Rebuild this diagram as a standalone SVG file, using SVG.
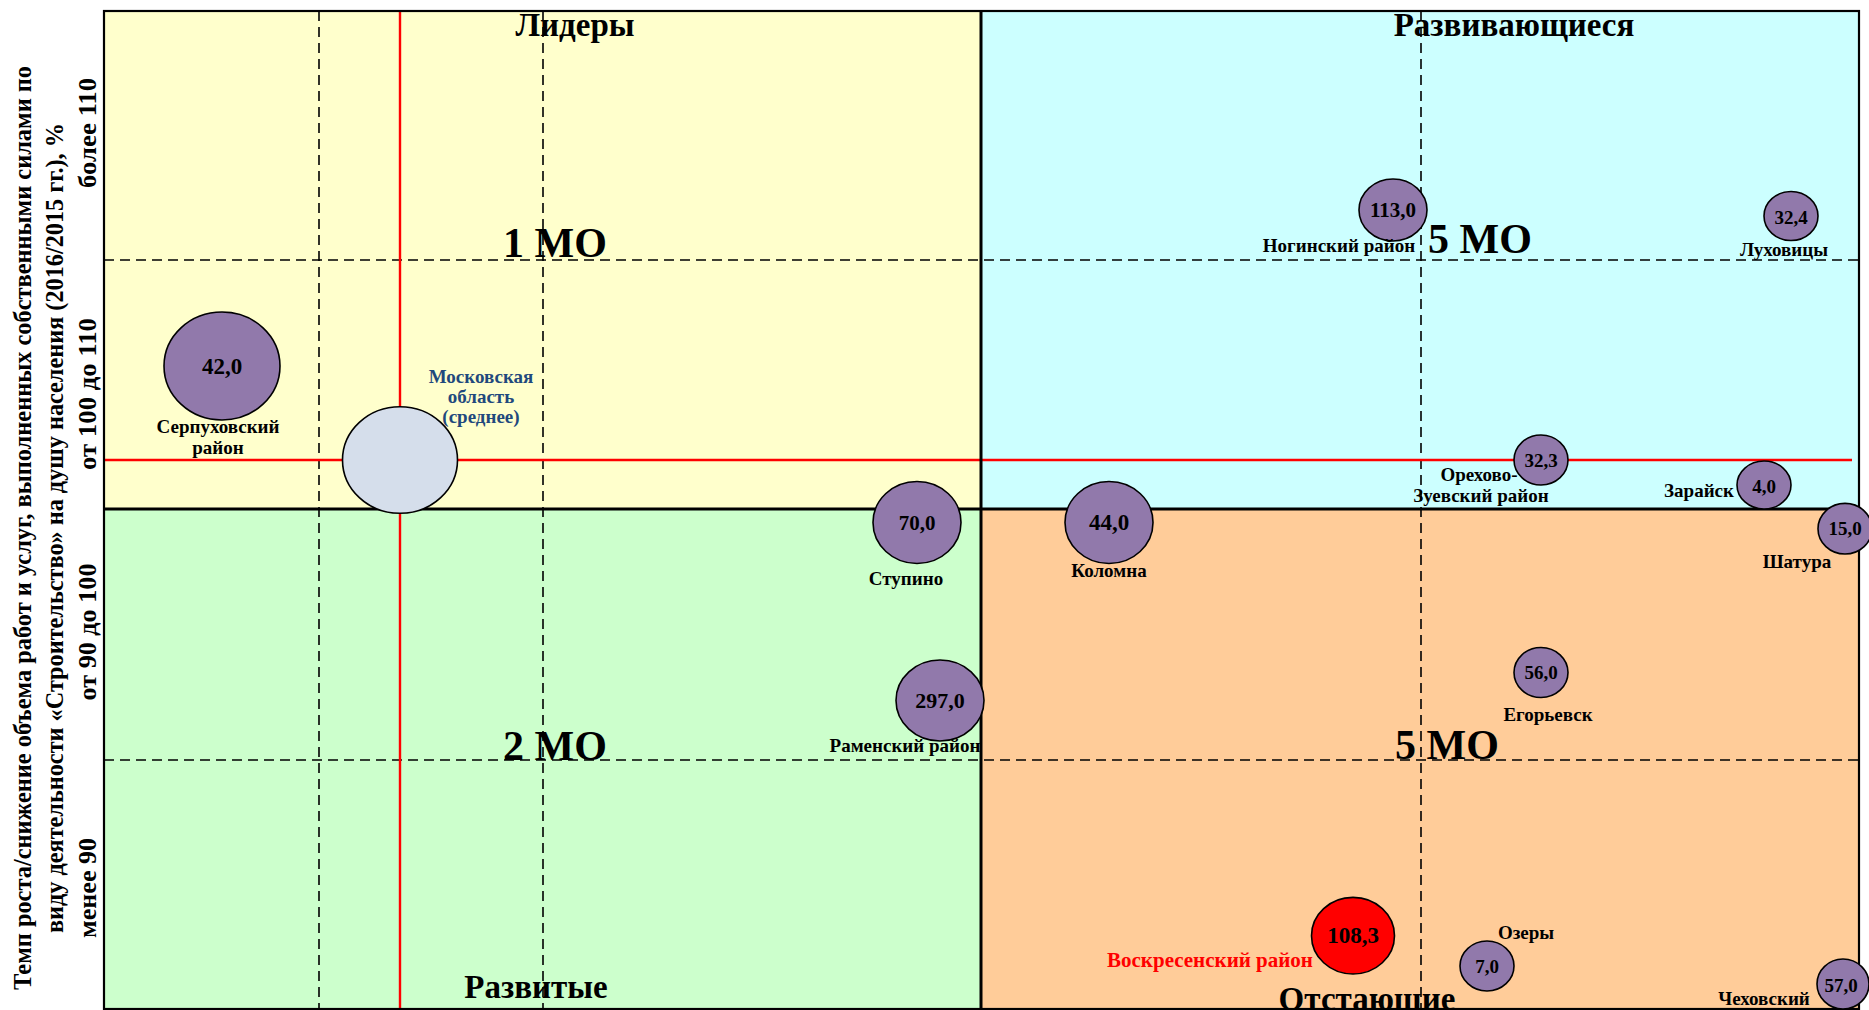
<svg xmlns="http://www.w3.org/2000/svg" width="1869" height="1010" viewBox="0 0 1869 1010">
<style>
text{font-family:"Liberation Serif","Times New Roman",serif;font-weight:bold;fill:#000}
.q{font-size:33px;text-anchor:middle}
.mo{font-size:42px;text-anchor:middle}
.ax{font-size:26px;text-anchor:middle}
.lb{font-size:19px;text-anchor:middle}
.num{font-size:19px;text-anchor:middle;dominant-baseline:central}
.bub{fill:#9179AB;stroke:#000;stroke-width:1.6}
.dash{stroke:#000;stroke-width:1.6;stroke-dasharray:10 6;fill:none}
.red{stroke:#FF0000;stroke-width:2.4;fill:none}
.div{stroke:#000;stroke-width:3;fill:none}
</style>
<rect width="1869" height="1010" fill="#fff"/>
<g id="quadrants">
<rect x="104" y="11" width="877" height="498" fill="#FFFFCC"/>
<rect x="981" y="11" width="878" height="498" fill="#CCFFFF"/>
<rect x="104" y="509" width="877" height="500" fill="#CCFFCC"/>
<rect x="981" y="509" width="878" height="500" fill="#FFCC99"/>
</g>
<g id="axis-labels">
<text class="ax" transform="translate(31,528) rotate(-90)" textLength="924" lengthAdjust="spacingAndGlyphs">Темп роста/снижение объема работ и услуг, выполненных собственными силами по</text>
<text class="ax" transform="translate(63,528) rotate(-90)" textLength="810" lengthAdjust="spacingAndGlyphs">виду деятельности «Строительство» на душу населения (2016/2015 гг.), %</text>
<text class="ax" transform="translate(96,133) rotate(-90)" textLength="110" lengthAdjust="spacingAndGlyphs">более 110</text>
<text class="ax" transform="translate(96,394) rotate(-90)" textLength="152" lengthAdjust="spacingAndGlyphs">от 100 до 110</text>
<text class="ax" transform="translate(96,632) rotate(-90)" textLength="137" lengthAdjust="spacingAndGlyphs">от 90 до 100</text>
<text class="ax" transform="translate(96,888) rotate(-90)" textLength="100" lengthAdjust="spacingAndGlyphs">менее 90</text>
</g>
<g id="quadrant-titles">
<text class="q" x="575" y="36">Лидеры</text>
<text class="q" x="1514" y="36">Развивающиеся</text>
<text class="q" x="536" y="998">Развитые</text>
<text class="q" x="1367" y="1010">Отстающие</text>
<text class="mo" x="555" y="257">1 МО</text>
<text class="mo" x="555" y="760">2 МО</text>
<text class="mo" x="1480" y="253">5 МО</text>
<text class="mo" x="1447" y="759">5 МО</text>
</g>
<g id="connectors">
<line class="dash" x1="104" y1="260" x2="1859" y2="260"/>
<line class="dash" x1="104" y1="760" x2="1859" y2="760"/>
<line class="dash" x1="319" y1="11" x2="319" y2="1009"/>
<line class="dash" x1="543" y1="11" x2="543" y2="1009"/>
<line class="dash" x1="1421" y1="11" x2="1421" y2="1009"/>
<line class="red" x1="400" y1="11" x2="400" y2="1009"/>
<line class="red" x1="104" y1="460" x2="1852" y2="460"/>
<line class="div" x1="104" y1="509" x2="1859" y2="509"/>
<line class="div" x1="981" y1="11" x2="981" y2="1009"/>
<rect x="104" y="11" width="1755" height="998" fill="none" stroke="#000" stroke-width="2.2"/>
</g>
<g id="node-serpukhov">
<ellipse class="bub" cx="222" cy="366" rx="58" ry="54"/>
<text class="num" x="222" y="366" style="font-size:23px">42,0</text>
<text class="lb" x="218" y="433">Серпуховский</text>
<text class="lb" x="218" y="454">район</text>
</g>
<g id="node-moscow">
<ellipse cx="400" cy="460" rx="57.5" ry="53.3" fill="#D5DEEB" stroke="#000" stroke-width="1.6"/>
<text class="lb" x="481" y="383" style="fill:#1F497D">Московская</text>
<text class="lb" x="481" y="403" style="fill:#1F497D">область</text>
<text class="lb" x="481" y="423" style="fill:#1F497D">(среднее)</text>
</g>
<g id="node-stupino">
<ellipse class="bub" cx="917" cy="522.5" rx="44" ry="41"/>
<text class="num" x="917" y="522.5" style="font-size:21px">70,0</text>
<text class="lb" x="906" y="585">Ступино</text>
</g>
<g id="node-kolomna">
<ellipse class="bub" cx="1109" cy="522.5" rx="44" ry="41"/>
<text class="num" x="1109" y="522.5" style="font-size:23px">44,0</text>
<text class="lb" x="1109" y="577">Коломна</text>
</g>
<g id="node-ramensky">
<ellipse class="bub" cx="940" cy="700.5" rx="44" ry="40.5"/>
<text class="num" x="940" y="700.5" style="font-size:22px">297,0</text>
<text class="lb" x="905" y="752">Раменский район</text>
</g>
<g id="node-noginsk">
<ellipse class="bub" cx="1393" cy="210" rx="34" ry="31"/>
<text class="num" x="1393" y="210" style="font-size:21px">113,0</text>
<text class="lb" x="1339" y="252">Ногинский район</text>
</g>
<g id="node-lukhovitsy">
<ellipse class="bub" cx="1791" cy="216" rx="27" ry="24.5"/>
<text class="num" x="1791" y="217">32,4</text>
<text class="lb" x="1784" y="256">Луховицы</text>
</g>
<g id="node-orekhovo">
<ellipse class="bub" cx="1541" cy="460" rx="27" ry="25"/>
<text class="num" x="1541" y="460">32,3</text>
<text class="lb" x="1479" y="481">Орехово-</text>
<text class="lb" x="1481" y="502">Зуевский район</text>
</g>
<g id="node-zaraysk">
<ellipse class="bub" cx="1764" cy="485" rx="27" ry="24"/>
<text class="num" x="1764" y="486">4,0</text>
<text class="lb" x="1699" y="497">Зарайск</text>
</g>
<g id="node-shatura">
<ellipse class="bub" cx="1845" cy="528.7" rx="27" ry="25.3"/>
<text class="num" x="1845" y="528.5">15,0</text>
<text class="lb" x="1797" y="568">Шатура</text>
</g>
<g id="node-egorievsk">
<ellipse class="bub" cx="1541" cy="672.5" rx="27" ry="25"/>
<text class="num" x="1541" y="672.5">56,0</text>
<text class="lb" x="1548" y="721">Егорьевск</text>
</g>
<g id="node-voskresensk">
<ellipse cx="1353" cy="935.7" rx="41.5" ry="38.3" fill="#FF0000" stroke="#000" stroke-width="1.6"/>
<text class="num" x="1353" y="935.7" style="font-size:23px">108,3</text>
<text class="lb" x="1210" y="966.5" style="fill:#FF0000;font-size:21px">Воскресенский район</text>
</g>
<g id="node-ozery">
<ellipse class="bub" cx="1487" cy="966" rx="27" ry="25"/>
<text class="num" x="1487" y="966">7,0</text>
<text class="lb" x="1526" y="939">Озеры</text>
</g>
<g id="node-chekhov">
<ellipse class="bub" cx="1843" cy="984" rx="26" ry="25"/>
<text class="num" x="1841" y="985">57,0</text>
<text class="lb" x="1764" y="1005">Чеховский</text>
</g>
</svg>
